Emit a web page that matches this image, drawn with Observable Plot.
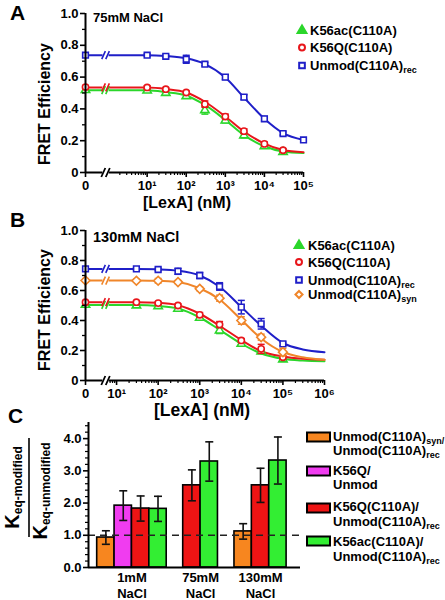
<!DOCTYPE html>
<html><head><meta charset="utf-8">
<script src="https://cdn.jsdelivr.net/npm/d3@7"></script>
<script src="https://cdn.jsdelivr.net/npm/@observablehq/plot@0.6"></script>
<style>
html,body{margin:0;padding:0;background:#fff;}
#chart{position:relative;width:445px;height:600px;overflow:hidden;}
#chart svg{position:absolute;left:0;overflow:visible;}
</style></head><body><div id="chart"></div>
<script>
const FONT = "'Liberation Sans', Arial, Helvetica, sans-serif";
const GREEN = "#2bd62b", RED = "#e8161b", BLUE = "#1f1fc8", ORANGE = "#f0862a";
const C_ORANGE = "#f7861f", C_MAGENTA = "#f03cf0", C_RED = "#ee1414", C_GREEN = "#33ee33";

// ---------- Panel A (75 mM NaCl) ----------
const concA = [0, 10, 30, 100, 300, 1000, 3000, 10000, 30000, 100000];
const a_k56ac     = [0.518, 0.515, 0.500, 0.480, 0.392, 0.327, 0.233, 0.165, 0.128, null];
const a_k56ac_err = [0.010, 0.010, 0.010, 0.012, 0.025, 0.015, 0.015, 0.010, 0.010, null];
const a_k56q      = [0.537, 0.535, 0.524, 0.503, 0.430, 0.352, 0.260, 0.180, 0.140, null];
const a_k56q_err  = [0.010, 0.010, 0.010, 0.010, 0.020, 0.015, 0.015, 0.012, 0.010, null];
const a_unmod     = [0.738, 0.738, 0.731, 0.712, 0.681, 0.600, 0.474, 0.338, 0.245, 0.205];
const a_unmod_err = [0.008, 0.008, 0.008, 0.025, 0.010, 0.015, 0.015, 0.015, 0.010, 0.006];
const a_k56ac_fit = [0.518, 0.517, 0.505, 0.483, 0.425, 0.330, 0.235, 0.165, 0.132, 0.122];
const a_k56q_fit  = [0.535, 0.534, 0.525, 0.503, 0.445, 0.352, 0.258, 0.182, 0.142, 0.128];
const a_unmod_fit = [0.738, 0.737, 0.732, 0.718, 0.682, 0.598, 0.472, 0.338, 0.248, 0.205];

// ---------- Panel B (130 mM NaCl) ----------
const concB = [0, 30, 100, 300, 1000, 3000, 10000, 30000, 100000];
const fitConcB = [0, 30, 100, 300, 1000, 3000, 10000, 30000, 100000, 300000, 1000000];
const b_k56ac     = [0.504, 0.500, 0.495, 0.478, 0.418, 0.333, 0.244, 0.193, 0.140];
const b_k56ac_err = [0.010, 0.010, 0.010, 0.015, 0.015, 0.020, 0.012, 0.012, 0.010];
const b_k56q      = [0.522, 0.522, 0.516, 0.500, 0.438, 0.373, 0.267, 0.211, 0.155];
const b_k56q_err  = [0.010, 0.010, 0.010, 0.010, 0.015, 0.020, 0.012, 0.030, 0.010];
const b_rec       = [0.744, 0.744, 0.740, 0.728, 0.700, 0.627, 0.489, 0.378, 0.244];
const b_rec_err   = [0.010, 0.008, 0.008, 0.020, 0.020, 0.025, 0.045, 0.035, 0.012];
const b_syn       = [0.667, 0.665, 0.665, 0.656, 0.611, 0.549, 0.400, 0.289, 0.189];
const b_syn_err   = [0.012, 0.010, 0.015, 0.010, 0.012, 0.020, 0.025, 0.020, 0.025];
const b_k56ac_fit = [0.504, 0.503, 0.497, 0.480, 0.420, 0.338, 0.245, 0.180, 0.145, 0.133, 0.128];
const b_k56q_fit  = [0.522, 0.522, 0.518, 0.502, 0.445, 0.365, 0.270, 0.195, 0.160, 0.145, 0.138];
const b_rec_fit   = [0.744, 0.744, 0.741, 0.732, 0.700, 0.625, 0.490, 0.365, 0.250, 0.207, 0.189];
const b_syn_fit   = [0.666, 0.666, 0.665, 0.656, 0.615, 0.540, 0.405, 0.280, 0.190, 0.155, 0.138];

// tick labels
const yTickValues = [0, 0.2, 0.4, 0.6, 0.8, 1.0];
const yTickLabels = ["0", "0.2", "0.4", "0.6", "0.8", "1.0"];
const yMinorTicks = [0.1, 0.3, 0.5, 0.7, 0.9];
const xTickValuesA = [0, 10, 100, 1000, 10000, 100000];
const xTickLabelsA = ["0", "10¹", "10²", "10³", "10⁴", "10⁵"];
const xTickValuesB = [0, 10, 100, 1000, 10000, 100000, 1000000];
const xTickLabelsB = ["0", "10¹", "10²", "10³", "10⁴", "10⁵", "10⁶"];

// ---------- Panel C ----------
const groupsC = ["1mM\nNaCl", "75mM\nNaCl", "130mM\nNaCl"];
const ratioSynRec   = [0.93, null, 1.12];
const errSynRec     = [0.21, null, 0.24];
const ratioK56QUnm  = [1.92, null, null];
const errK56QUnm    = [0.46, null, null];
const ratioK56QRec  = [1.83, 2.55, 2.55];
const errK56QRec    = [0.39, 0.48, 0.53];
const ratioK56acRec = [1.82, 3.29, 3.32];
const errK56acRec   = [0.39, 0.61, 0.73];
const yTickValuesC = [0, 1, 2, 3, 4];
const yTickLabelsC = ["0.0", "1.0", "2.0", "3.0", "4.0"];

// ---------- helpers ----------
const capSymbol = {draw(ctx, size) { const w = Math.sqrt(size / Math.PI); ctx.moveTo(-w, 0); ctx.lineTo(w, 0); }};
const breakSymbol = {draw(ctx, size) {
  const r = Math.sqrt(size / Math.PI);
  ctx.moveTo(-r * 0.95, r); ctx.lineTo(-r * 0.05, -r);
  ctx.moveTo(r * 0.05, r); ctx.lineTo(r * 0.95, -r);
}};
const pos = (c, zero) => c === 0 ? zero : Math.log10(c);
const baseStyle = {fontFamily: FONT, fontSize: "13px", fontWeight: "bold", color: "black", background: "transparent", overflow: "visible"};

function curvePanel(cfg) {
  const {conc, fitConc, series, zero, brk, xMax, height, mTop, mBottom, mRight, xTickValues, xTickLabels} = cfg;
  const marks = [];
  for (const s of series) {
    const fit = fitConc.map((c, i) => ({x: pos(c, zero), y: s.fit[i]}));
    marks.push(Plot.line(fit, {x: "x", y: "y", stroke: s.color, strokeWidth: 2, curve: "monotone-x"}));
  }
  for (const s of series) {
    marks.push(Plot.dot([{x: brk, y: s.fit[0]}], {x: "x", y: "y", symbol: "square", r: 3.4, fill: "white"}));
  }
  for (const s of series) {
    marks.push(Plot.dot([{x: brk, y: s.fit[0]}], {x: "x", y: "y", symbol: breakSymbol, r: 4, stroke: s.color, fill: "none", strokeWidth: 1.6}));
  }
  for (const s of series) {
    const rows = conc.map((c, i) => ({x: pos(c, zero), y: s.data[i], e: s.err[i]})).filter(d => d.y != null);
    marks.push(Plot.ruleX(rows, {x: "x", y1: d => d.y - d.e, y2: d => d.y + d.e, stroke: s.color, strokeWidth: 1.5}));
    marks.push(Plot.dot(rows, {x: "x", y: d => d.y + d.e, symbol: capSymbol, r: 3.5, stroke: s.color, fill: "none", strokeWidth: 1.5}));
    marks.push(Plot.dot(rows, {x: "x", y: d => d.y - d.e, symbol: capSymbol, r: 3.5, stroke: s.color, fill: "none", strokeWidth: 1.5}));
    marks.push(Plot.dot(rows, {x: "x", y: "y", symbol: s.symbol, r: s.r, stroke: s.color, fill: "white", strokeWidth: 1.6}));
  }
  // axes
  const xPos = xTickValues.map(c => pos(c, zero));
  const xLab = new Map(xPos.map((p, i) => [p, xTickLabels[i]]));
  const yLab = new Map(yTickValues.map((v, i) => [v, yTickLabels[i]]));
  const minor = [];
  for (let d = 0; d < Math.round(xMax); d++) for (let k = 2; k <= 9; k++) {
    const p = Math.log10(k * Math.pow(10, d));
    if (p > brk + 0.08) minor.push(p);
  }
  marks.push(
    Plot.ruleX([zero], {stroke: "black", strokeWidth: 2}),
    Plot.ruleY([0], {stroke: "black", strokeWidth: 2}),
    Plot.dot([{x: brk, y: 0}], {x: "x", y: "y", symbol: "square", r: 3.6, fill: "white"}),
    Plot.dot([{x: brk, y: 0}], {x: "x", y: "y", symbol: breakSymbol, r: 4.5, stroke: "black", fill: "none", strokeWidth: 1.8}),
    Plot.axisY({ticks: yTickValues, tickFormat: d => yLab.get(d), tickSize: 5, tickPadding: 2, strokeWidth: 1.6, label: null, fontSize: 13, fontWeight: "bold"}),
    Plot.axisY({ticks: yMinorTicks, tickFormat: () => "", tickSize: 3, strokeWidth: 1.3, label: null}),
    Plot.axisX({ticks: xPos, tickFormat: d => xLab.get(d), tickSize: 5, tickPadding: 3, strokeWidth: 1.6, label: null, fontSize: 13, fontWeight: "bold"}),
    Plot.axisX({ticks: minor, tickFormat: () => "", tickSize: 3, strokeWidth: 1.2, label: null})
  );
  return Plot.plot({
    width: 445, height, marginTop: mTop, marginBottom: mBottom, marginLeft: 85, marginRight: mRight,
    x: {type: "linear", domain: [zero, xMax]},
    y: {type: "linear", domain: [0, 1]},
    style: baseStyle,
    marks
  });
}

const chart = document.getElementById("chart");

// Panel A
const seriesA = [
  {name: "K56ac(C110A)", color: GREEN, symbol: "triangle2", r: 4, data: a_k56ac, err: a_k56ac_err, fit: a_k56ac_fit},
  {name: "K56Q(C110A)", color: RED, symbol: "circle", r: 3.1, data: a_k56q, err: a_k56q_err, fit: a_k56q_fit},
  {name: "Unmod(C110A)", sub: "rec", color: BLUE, symbol: "square2", r: 3.6, data: a_unmod, err: a_unmod_err, fit: a_unmod_fit}
];
const ZERO_A = -0.577, BREAK_A = -0.064;
const svgA = curvePanel({conc: concA, fitConc: concA, series: seriesA, zero: ZERO_A, brk: BREAK_A, xMax: 5,
  height: 215, mTop: 13, mBottom: 43, mRight: 142, xTickValues: xTickValuesA, xTickLabels: xTickLabelsA});
svgA.style.top = "0px";
chart.appendChild(svgA);

// Panel B
const seriesB = [
  {name: "K56ac(C110A)", color: GREEN, symbol: "triangle2", r: 4, data: b_k56ac, err: b_k56ac_err, fit: b_k56ac_fit},
  {name: "K56Q(C110A)", color: RED, symbol: "circle", r: 3.1, data: b_k56q, err: b_k56q_err, fit: b_k56q_fit},
  {name: "Unmod(C110A)", sub: "rec", color: BLUE, symbol: "square2", r: 3.6, data: b_rec, err: b_rec_err, fit: b_rec_fit},
  {name: "Unmod(C110A)", sub: "syn", color: ORANGE, symbol: "diamond2", r: 4, data: b_syn, err: b_syn_err, fit: b_syn_fit}
];
const ZERO_B = 0.253, BREAK_B = 0.735;
const svgB = curvePanel({conc: concB, fitConc: fitConcB, series: seriesB, zero: ZERO_B, brk: BREAK_B, xMax: 6,
  height: 205, mTop: 15, mBottom: 40, mRight: 121, xTickValues: xTickValuesB, xTickLabels: xTickLabelsB});
svgB.style.top = "215px";
chart.appendChild(svgB);

// Panel C
const seriesC = [
  {lines: [["Unmod(C110A)", "syn/"], ["Unmod(C110A)", "rec"]], color: C_ORANGE, values: ratioSynRec, err: errSynRec},
  {lines: [["K56Q/"], ["Unmod"]], color: C_MAGENTA, values: ratioK56QUnm, err: errK56QUnm},
  {lines: [["K56Q(C110A)/"], ["Unmod(C110A)", "rec"]], color: C_RED, values: ratioK56QRec, err: errK56QRec},
  {lines: [["K56ac(C110A)/"], ["Unmod(C110A)", "rec"]], color: C_GREEN, values: ratioK56acRec, err: errK56acRec}
];
const GAP = 0.95;
const bars = [], centers = [];
let start = 0.5;
groupsC.forEach((g, gi) => {
  const present = seriesC.filter(s => s.values[gi] != null);
  present.forEach((s, k) => bars.push({x1: start + k, x2: start + k + 1, v: s.values[gi], e: s.err[gi], color: s.color}));
  centers.push(start + present.length / 2);
  start += present.length + GAP;
});
const xEndC = start - GAP + 0.8;
const catLab = new Map(centers.map((c, i) => [c, groupsC[i]]));
const yLabC = new Map(yTickValuesC.map((v, i) => [v, yTickLabelsC[i]]));
const minorC = d3.range(1, 23).map(i => i * 0.2).filter(v => Math.abs(v - Math.round(v)) > 0.01);
const svgC = Plot.plot({
  width: 445, height: 190, marginTop: 12, marginBottom: 33, marginLeft: 88, marginRight: 145,
  x: {type: "linear", domain: [0, xEndC]},
  y: {type: "linear", domain: [0, 4.5]},
  color: {type: "identity"},
  style: baseStyle,
  marks: [
    Plot.rect(bars, {x1: "x1", x2: "x2", y1: () => 0, y2: "v", fill: "color", stroke: "black", strokeWidth: 1.6}),
    Plot.ruleY([1], {stroke: "#222", strokeWidth: 1.6, strokeDasharray: "7,5"}),
    Plot.ruleX(bars, {x: d => (d.x1 + d.x2) / 2, y1: d => d.v - d.e, y2: d => d.v + d.e, stroke: "#111", strokeWidth: 1.6}),
    Plot.dot(bars, {x: d => (d.x1 + d.x2) / 2, y: d => d.v + d.e, symbol: capSymbol, r: 4, stroke: "#111", fill: "none", strokeWidth: 1.6}),
    Plot.dot(bars, {x: d => (d.x1 + d.x2) / 2, y: d => d.v - d.e, symbol: capSymbol, r: 4, stroke: "#111", fill: "none", strokeWidth: 1.6}),
    Plot.ruleX([0], {stroke: "black", strokeWidth: 2}),
    Plot.ruleY([0], {stroke: "black", strokeWidth: 2}),
    Plot.axisY({ticks: yTickValuesC, tickFormat: d => yLabC.get(d), tickSize: 5, tickPadding: 2, strokeWidth: 1.6, label: null, fontSize: 13, fontWeight: "bold"}),
    Plot.axisY({ticks: minorC, tickFormat: () => "", tickSize: 3, strokeWidth: 1.2, label: null}),
    Plot.axisX({ticks: centers, tickFormat: d => catLab.get(d), tickSize: 0, tickPadding: 3, lineHeight: 1.25, label: null, fontSize: 13, fontWeight: "bold"})
  ]
});
svgC.style.top = "410px";
chart.appendChild(svgC);

// ---------- overlay text ----------
const ov = d3.select(chart).append("svg").attr("width", 445).attr("height", 600)
  .style("top", "0px").style("pointer-events", "none")
  .attr("font-family", FONT).attr("font-weight", "bold").attr("fill", "black");

function rich(parent, x, y, parts, size, subSize, anchor, rotate) {
  const t = parent.append("text").attr("font-size", size).attr("text-anchor", anchor || "start");
  if (rotate) t.attr("transform", `translate(${x},${y}) rotate(-90)`);
  else t.attr("x", x).attr("y", y);
  let shift = 0;
  parts.forEach((p, i) => {
    const isSub = i % 2 === 1;
    const target = isSub ? subSize[1] : 0;
    const ts = t.append("tspan").text(p);
    if (isSub) ts.attr("font-size", subSize[0]);
    if (target !== shift) { ts.attr("dy", target - shift); shift = target; }
  });
  return t;
}

// panel letters
[["A", 10, 20], ["B", 10, 227], ["C", 8, 423]].forEach(([l, x, y]) =>
  ov.append("text").attr("x", x).attr("y", y).attr("font-size", 21).text(l));

// titles
ov.append("text").attr("x", 93).attr("y", 22).attr("font-size", 13).text("75mM NaCl");
ov.append("text").attr("x", 93).attr("y", 241.5).attr("font-size", 14.5).text("130mM NaCl");

// axis titles
rich(ov, 49.5, 104, ["FRET Efficiency"], 16, [0, 0], "middle", true);
rich(ov, 49.5, 310, ["FRET Efficiency"], 16, [0, 0], "middle", true);
ov.append("text").attr("x", 187).attr("y", 208).attr("font-size", 16).attr("text-anchor", "middle").text("[LexA] (nM)");
ov.append("text").attr("x", 202).attr("y", 416).attr("font-size", 17.5).attr("text-anchor", "middle").text("[LexA] (nM)");

// legends A and B
const symType = {triangle2: d3.symbolTriangle, circle: d3.symbolCircle, square2: d3.symbolSquare, diamond2: d3.symbolDiamond2 || d3.symbolSquare};
function curveLegend(series, sx, tx, baselines) {
  series.forEach((s, i) => {
    const y = baselines[i];
    const filled = s.symbol === "triangle2";
    const size = filled ? 34 : (s.symbol === "circle" ? 28 : 32);
    ov.append("path").attr("d", d3.symbol(symType[s.symbol], size)())
      .attr("transform", `translate(${sx},${y - 4.5})` + (s.symbol === "diamond2" && !d3.symbolDiamond2 ? " rotate(45)" : ""))
      .attr("fill", filled ? s.color : "white").attr("stroke", s.color).attr("stroke-width", 2);
    rich(ov, tx, y, s.sub ? [s.name, s.sub] : [s.name], 13, [9, 3], "start");
  });
}
curveLegend(seriesA, 302, 310, [35, 52, 70]);
curveLegend(seriesB, 299, 308, [250, 266.5, 284.5, 299]);

// legend C
const swatchY = [437, 471, 508, 541];
const lineBase = [[440.7, 454.5], [475, 489], [510.7, 526], [545.7, 560.7]];
seriesC.forEach((s, i) => {
  ov.append("rect").attr("x", 307).attr("y", swatchY[i] - 4.5).attr("width", 23).attr("height", 9)
    .attr("fill", s.color).attr("stroke", "black").attr("stroke-width", 2);
  s.lines.forEach((ln, j) => rich(ov, 333, lineBase[i][j], ln, 13, [9, 3], "start"));
});

// fraction y label for C
rich(ov, 19, 487.5, ["K", "eq-modified"], 20, [12, 3], "middle", true);
rich(ov, 46.5, 491, ["K", "eq-unmodified"], 20, [12, 3], "middle", true);
ov.append("line").attr("x1", 29).attr("x2", 29).attr("y1", 438).attr("y2", 537).attr("stroke", "black").attr("stroke-width", 1.6);
</script></body></html>
